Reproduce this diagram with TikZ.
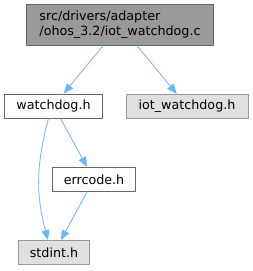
\documentclass[tikz,border=0pt]{standalone}
\usepackage{fontspec}
\setmainfont{DejaVu Sans}
\usepackage{xcolor}
\usetikzlibrary{arrows.meta}

\definecolor{edgeblue}{HTML}{63B8FF}
\definecolor{rootgray}{HTML}{999999}
\definecolor{darkline}{HTML}{666666}
\definecolor{sysgray}{HTML}{E0E0E0}

\begin{document}
\begin{tikzpicture}[
          x=1pt, y=1pt,
          filebox/.style={rectangle, draw=darkline, fill=white, line width=0.9pt, inner sep=0pt, minimum height=24pt, font=\fontsize{12.7}{15}\selectfont},
          sysbox/.style={filebox, draw=rootgray, fill=sysgray},
          rootbox/.style={filebox, fill=rootgray, align=left, minimum height=40.6pt},
          incl/.style={draw=edgeblue, line width=0.8pt, -{Triangle[length=10pt,width=8pt]}}
        ]
          \useasboundingbox (0,0) rectangle (253,-271);

          % Source file
          \node[rootbox, minimum width=187pt] (wdsrc) at (120,-25) {src/drivers/adapter\\/ohos\_3.2/iot\_watchdog.c};

          % Included headers
          \node[filebox, minimum width=97.6pt] (wdhdr) at (53.5,-106) {watchdog.h};
          \node[sysbox, minimum width=122pt] (iotwdhdr) at (187,-106.3) {iot\_watchdog.h};
          \node[filebox, minimum width=83pt] (errhdr) at (94,-179.4) {errcode.h};
          \node[sysbox, minimum width=71pt] (stdhdr) at (54,-252.5) {stdint.h};

          % Include edges
          \draw[incl] (wdsrc) -- (wdhdr);
          \draw[incl] (wdsrc) -- (iotwdhdr);
          \draw[incl] (wdhdr) -- (errhdr);
          \draw[incl] ([xshift=-5pt]wdhdr.south) to[out=-105, in=105] ([xshift=-6pt]stdhdr.north);
          \draw[incl] (errhdr) -- (stdhdr);
        \end{tikzpicture}
\end{document}
